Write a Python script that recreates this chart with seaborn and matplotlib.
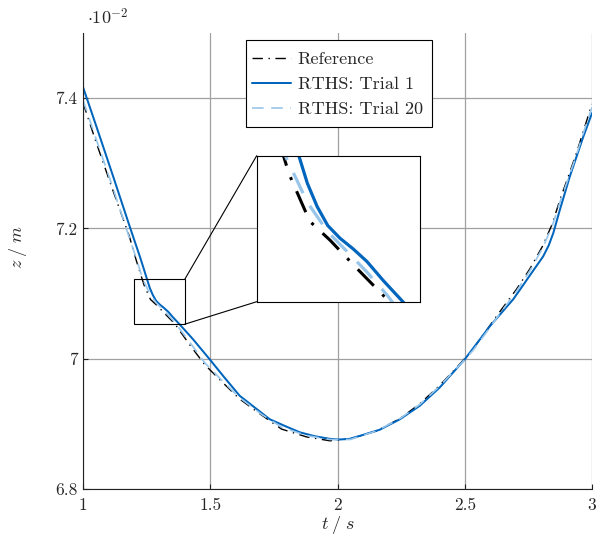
import matplotlib
matplotlib.use("Agg")
import matplotlib.pyplot as plt
import pandas as pd
import seaborn as sns
from matplotlib.patches import Rectangle, ConnectionPatch

# vertical position z of the tracked point over time
# t in s, z in units of 10^-2 m
t_ref = [1.000, 1.050, 1.116, 1.182, 1.210, 1.240, 1.265, 1.290, 1.322, 1.360,
         1.420, 1.478, 1.550, 1.616, 1.700, 1.780, 1.878, 1.970, 2.050, 2.153,
         2.245, 2.324, 2.396, 2.465, 2.531, 2.586, 2.645, 2.704, 2.756, 2.806,
         2.844, 2.874, 2.907, 2.940, 2.969, 3.000]
z_ref = [7.393, 7.334, 7.260, 7.188, 7.150, 7.113, 7.091, 7.082, 7.069, 7.054,
         7.021, 6.991, 6.963, 6.938, 6.914, 6.892, 6.880, 6.874, 6.877, 6.889,
         6.908, 6.931, 6.957, 6.985, 7.014, 7.044, 7.076, 7.107, 7.138, 7.173,
         7.207, 7.244, 7.280, 7.317, 7.353, 7.391]

t_trial1 = [1.000, 1.060, 1.120, 1.186, 1.225, 1.250, 1.262, 1.274, 1.287, 1.302,
            1.318, 1.335, 1.355, 1.379, 1.432, 1.498, 1.556, 1.616, 1.675, 1.734,
            1.792, 1.852, 1.911, 1.970, 2.009, 2.048, 2.100, 2.166, 2.245, 2.324,
            2.402, 2.500, 2.599, 2.690, 2.717, 2.765, 2.808, 2.830, 2.848, 2.874,
            2.913, 2.966, 3.000]
z_trial1 = [7.417, 7.348, 7.278, 7.200, 7.155, 7.124, 7.109, 7.098, 7.089, 7.083,
            7.078, 7.072, 7.063, 7.053, 7.030, 6.999, 6.971, 6.943, 6.925, 6.907,
            6.897, 6.887, 6.881, 6.877, 6.876, 6.877, 6.883, 6.891, 6.907, 6.928,
            6.956, 6.999, 7.050, 7.091, 7.106, 7.133, 7.157, 7.174, 7.193, 7.229,
            7.280, 7.341, 7.377]

t_trial20 = [1.000, 1.050, 1.116, 1.170, 1.210, 1.235, 1.262, 1.287, 1.310, 1.335,
             1.360, 1.420, 1.478, 1.550, 1.616, 1.700, 1.780, 1.878, 1.970, 2.050,
             2.153, 2.245, 2.324, 2.396, 2.465, 2.531, 2.586, 2.645, 2.704, 2.756,
             2.806, 2.844, 2.874, 2.907, 2.940, 2.969, 3.000]
z_trial20 = [7.397, 7.339, 7.264, 7.200, 7.153, 7.122, 7.100, 7.086, 7.077, 7.067,
             7.056, 7.025, 6.994, 6.965, 6.940, 6.915, 6.895, 6.882, 6.876, 6.876,
             6.889, 6.908, 6.930, 6.956, 6.984, 7.012, 7.041, 7.073, 7.104, 7.135,
             7.170, 7.204, 7.240, 7.277, 7.314, 7.350, 7.386]

series_labels = ["Reference", "RTHS: Trial 1", "RTHS: Trial 20"]
x_ticks = [1, 1.5, 2, 2.5, 3]
x_tick_labels = ["1", "1.5", "2", "2.5", "3"]
y_ticks = [6.8, 7.0, 7.2, 7.4]
y_tick_labels = ["6.8", "7", "7.2", "7.4"]

sns.set_theme(style="white")
plt.rcParams.update({
    "font.family": "cmr10",
    "mathtext.fontset": "cm",
    "axes.formatter.use_mathtext": True,
    "font.size": 12.5,
    "axes.unicode_minus": False,
})

df = pd.concat(
    [pd.DataFrame({"t": t, "z": z, "series": lab})
     for lab, t, z in zip(series_labels,
                          [t_ref, t_trial1, t_trial20],
                          [z_ref, z_trial1, z_trial20])],
    ignore_index=True,
)

colors = {"Reference": "black", "RTHS: Trial 1": "#0065BD", "RTHS: Trial 20": "#98C6EA"}
patterns = {"Reference": (0, (7.5, 4, 1, 4)),
            "RTHS: Trial 1": "-",
            "RTHS: Trial 20": (0, (7, 4.5))}
widths_main = {"Reference": 1.0, "RTHS: Trial 1": 1.45, "RTHS: Trial 20": 1.2}
widths_zoom = {"Reference": 2.2, "RTHS: Trial 1": 2.3, "RTHS: Trial 20": 2.3}


def draw_series(axis, widths, with_label):
    for lab in series_labels:
        sub = df[df["series"] == lab]
        sns.lineplot(data=sub, x="t", y="z", ax=axis, color=colors[lab],
                     linestyle=patterns[lab], linewidth=widths[lab],
                     label=lab if with_label else None,
                     estimator=None, sort=False, legend=False)


fig = plt.figure(figsize=(5.97, 5.37), dpi=100)
ax = fig.add_axes([83 / 597, 48 / 537, 509 / 597, 456 / 537])
ax.set_facecolor("white")

draw_series(ax, widths_main, True)

ax.set_xlim(1, 3)
ax.set_ylim(6.8, 7.5)
ax.set_xticks(x_ticks)
ax.set_xticklabels(x_tick_labels)
ax.set_yticks(y_ticks)
ax.set_yticklabels(y_tick_labels)
ax.grid(True, color="#a0a0a0", linewidth=0.9)
ax.set_axisbelow(True)
for side in ["top", "right"]:
    ax.spines[side].set_visible(False)
for side in ["left", "bottom"]:
    ax.spines[side].set_color("#222222")
    ax.spines[side].set_linewidth(0.8)
ax.tick_params(axis="both", direction="in", length=3.5, width=0.8,
               color="#222222", labelsize=12.5, bottom=True, left=True)
ax.tick_params(axis="x", pad=6)
ax.tick_params(axis="y", pad=4)

ax.set_xlabel(r"$t\;/\;s$", fontsize=13)
ax.set_ylabel(r"$z\;/\;m$", fontsize=13)
ax.xaxis.set_label_coords(0.5, -0.055)
ax.yaxis.set_label_coords(-0.106, 0.53)
ax.text(0.008, 1.035, r"$\cdot 10^{-2}$", transform=ax.transAxes,
        ha="left", va="center", fontsize=13)

# legend entries without their own frame; the box is drawn separately
leg_box = (0.3202, 0.7939, 0.3655, 0.1907)
leg = ax.legend(loc="center",
                bbox_to_anchor=(leg_box[0] + leg_box[2] / 2 - 0.003,
                                leg_box[1] + leg_box[3] / 2 - 0.002),
                frameon=False, fontsize=13.1, handlelength=2.15,
                handletextpad=0.35, labelspacing=0.5, borderpad=0,
                borderaxespad=0)
ax.add_patch(Rectangle((leg_box[0], leg_box[1]), leg_box[2], leg_box[3],
                       transform=ax.transAxes, facecolor="white",
                       edgecolor="black", linewidth=0.8, zorder=4))
leg.set_zorder(5)

# magnified region around the kink of the descent
zoom_x = (1.2, 1.4)
zoom_y = (7.053, 7.122)
ax.add_patch(Rectangle((zoom_x[0], zoom_y[0]), zoom_x[1] - zoom_x[0],
                       zoom_y[1] - zoom_y[0], fill=False, edgecolor="black",
                       linewidth=0.8, zorder=6))

axins = fig.add_axes([256.7 / 597, 235.3 / 537, 163.3 / 597, 146 / 537])
axins.set_facecolor("white")
draw_series(axins, widths_zoom, False)
axins.set_xlim(*zoom_x)
axins.set_ylim(*zoom_y)
axins.set_xticks([])
axins.set_yticks([])
axins.set_xlabel("")
axins.set_ylabel("")
for sp in axins.spines.values():
    sp.set_visible(True)
    sp.set_color("black")
    sp.set_linewidth(0.8)

for ya, yb in [(zoom_y[1], 1), (zoom_y[0], 0)]:
    con = ConnectionPatch(xyA=(zoom_x[1], ya), coordsA=ax.transData,
                          xyB=(0, yb), coordsB=axins.transAxes,
                          color="black", linewidth=0.8)
    fig.add_artist(con)

fig.savefig("out.png", dpi=100, facecolor="white")
